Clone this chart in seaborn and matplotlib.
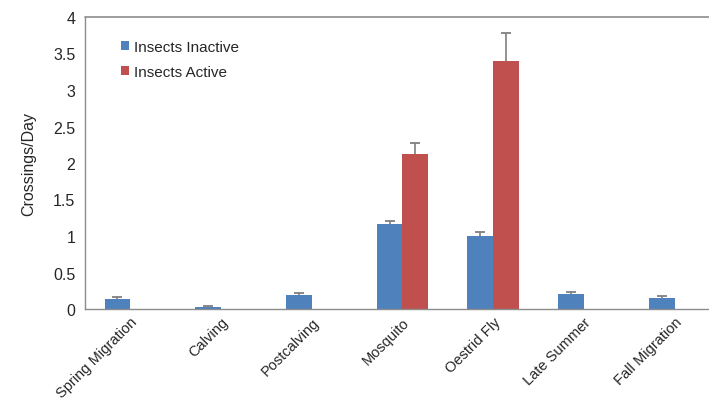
import numpy as np
import pandas as pd
import matplotlib
matplotlib.use('Agg')
import matplotlib.pyplot as plt
import seaborn as sns

periods = ['Spring Migration', 'Calving', 'Postcalving', 'Mosquito',
           'Oestrid Fly', 'Late Summer', 'Fall Migration']
inactive = [0.14, 0.03, 0.19, 1.16, 1.00, 0.20, 0.155]
inactive_err = [0.03, 0.01, 0.03, 0.05, 0.05, 0.03, 0.02]
active_periods = ['Mosquito', 'Oestrid Fly']
active = [2.12, 3.40]
active_err = [0.16, 0.38]

df = pd.concat([
    pd.DataFrame({'period': periods, 'value': inactive, 'err': inactive_err,
                  'group': 'Insects Inactive'}),
    pd.DataFrame({'period': active_periods, 'value': active, 'err': active_err,
                  'group': 'Insects Active'}),
], ignore_index=True)

sns.set_style('white')
plt.rcParams['font.family'] = ['Liberation Sans', 'DejaVu Sans']

fig = plt.figure(figsize=(7.09, 4.10), dpi=100)
ax = fig.add_axes([85 / 709, 1 - 310 / 410, 1 - 85 / 709, (310 - 18) / 410])

hue_order = ['Insects Inactive', 'Insects Active']
colors = {'Insects Inactive': '#4F81BD', 'Insects Active': '#C0504D'}
sns.barplot(data=df, x='period', y='value', hue='group', order=periods,
            hue_order=hue_order, palette=colors, width=0.57, errorbar=None,
            saturation=1, linewidth=0, ax=ax)

# upper-only error bars, placed at the bar centres
for container, grp in zip(ax.containers, hue_order):
    sub = df[df['group'] == grp].set_index('period')
    for bar, per in zip(container, [p for p in periods if p in sub.index]):
        x = bar.get_x() + bar.get_width() / 2
        v, e = sub.loc[per, 'value'], sub.loc[per, 'err']
        ax.errorbar(x, v, yerr=[[0], [e]], fmt='none', ecolor='#7f7f7f',
                    elinewidth=1.2, capsize=0)
        ax.plot(x, v + e, marker='_', ms=7, mew=1.3, color='#7f7f7f')

ax.set_yticks(np.arange(0, 4.01, 0.5))
ax.set_yticklabels(['0', '0.5', '1', '1.5', '2', '2.5', '3', '3.5', '4'])
ax.axhline(4, color='#8c8c8c', lw=1.2, clip_on=False)

for s in ['top', 'right']:
    ax.spines[s].set_visible(False)
for s in ['left', 'bottom']:
    ax.spines[s].set_color('#8c8c8c')
    ax.spines[s].set_linewidth(1.0)

ax.set_xticks(np.arange(-0.5, 7, 1), minor=True)
ax.tick_params(axis='x', which='major', length=0, labelsize=10.5, pad=4)
ax.tick_params(axis='x', which='minor', length=5, color='#8c8c8c', direction='out')
ax.tick_params(axis='y', length=4, color='#8c8c8c', direction='out', labelsize=11.5, pad=3)
ax.set_xticks(range(len(periods)))
ax.set_xticklabels(periods, rotation=45, ha='right', rotation_mode='anchor')
ax.set_xlabel('')
ax.set_ylabel('Crossings/Day', fontsize=11.5, labelpad=12)

# limits last, so tick setting can't widen them
ax.set_ylim(0, 4)
ax.set_xlim(-0.5, 6.38)

ax.legend(title=None, loc='upper left', bbox_to_anchor=(0.035, 0.97), frameon=False,
          fontsize=11, handlelength=0.55, handleheight=0.55, handletextpad=0.3,
          labelspacing=0.75)

fig.savefig('out.png', dpi=100)
